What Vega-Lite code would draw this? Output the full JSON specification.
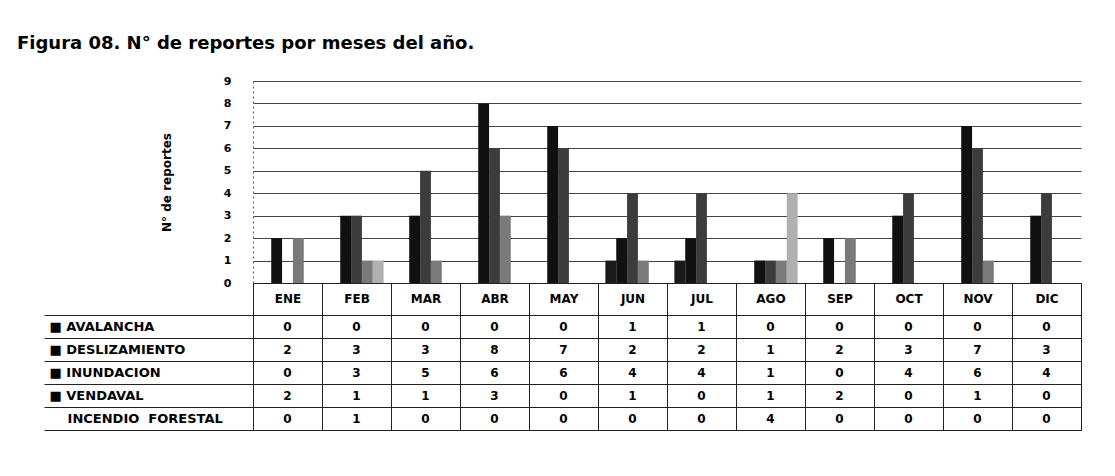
{
  "$schema": "https://vega.github.io/schema/vega-lite/v6.json",
  "background": "white",
  "padding": {"left": 17, "top": 35, "right": 25, "bottom": 10},
  "title": {
    "text": "Figura 08. N° de reportes por meses del año.",
    "anchor": "start",
    "dx": -26,
    "font": "DejaVu Sans",
    "fontSize": 18,
    "fontWeight": "bold",
    "color": "black",
    "offset": 22
  },
  "config": {
    "font": "DejaVu Sans",
    "concat": {"spacing": 32},
    "axis": {"labelColor": "black", "titleColor": "black", "labelFont": "DejaVu Sans", "titleFont": "DejaVu Sans"}
  },
  "bounds": "flush",
  "datasets": {
    "reportes": [
      {"mes": "ENE", "tipo": "AVALANCHA", "n": 0},
      {"mes": "FEB", "tipo": "AVALANCHA", "n": 0},
      {"mes": "MAR", "tipo": "AVALANCHA", "n": 0},
      {"mes": "ABR", "tipo": "AVALANCHA", "n": 0},
      {"mes": "MAY", "tipo": "AVALANCHA", "n": 0},
      {"mes": "JUN", "tipo": "AVALANCHA", "n": 1},
      {"mes": "JUL", "tipo": "AVALANCHA", "n": 1},
      {"mes": "AGO", "tipo": "AVALANCHA", "n": 0},
      {"mes": "SEP", "tipo": "AVALANCHA", "n": 0},
      {"mes": "OCT", "tipo": "AVALANCHA", "n": 0},
      {"mes": "NOV", "tipo": "AVALANCHA", "n": 0},
      {"mes": "DIC", "tipo": "AVALANCHA", "n": 0},
      {"mes": "ENE", "tipo": "DESLIZAMIENTO", "n": 2},
      {"mes": "FEB", "tipo": "DESLIZAMIENTO", "n": 3},
      {"mes": "MAR", "tipo": "DESLIZAMIENTO", "n": 3},
      {"mes": "ABR", "tipo": "DESLIZAMIENTO", "n": 8},
      {"mes": "MAY", "tipo": "DESLIZAMIENTO", "n": 7},
      {"mes": "JUN", "tipo": "DESLIZAMIENTO", "n": 2},
      {"mes": "JUL", "tipo": "DESLIZAMIENTO", "n": 2},
      {"mes": "AGO", "tipo": "DESLIZAMIENTO", "n": 1},
      {"mes": "SEP", "tipo": "DESLIZAMIENTO", "n": 2},
      {"mes": "OCT", "tipo": "DESLIZAMIENTO", "n": 3},
      {"mes": "NOV", "tipo": "DESLIZAMIENTO", "n": 7},
      {"mes": "DIC", "tipo": "DESLIZAMIENTO", "n": 3},
      {"mes": "ENE", "tipo": "INUNDACION", "n": 0},
      {"mes": "FEB", "tipo": "INUNDACION", "n": 3},
      {"mes": "MAR", "tipo": "INUNDACION", "n": 5},
      {"mes": "ABR", "tipo": "INUNDACION", "n": 6},
      {"mes": "MAY", "tipo": "INUNDACION", "n": 6},
      {"mes": "JUN", "tipo": "INUNDACION", "n": 4},
      {"mes": "JUL", "tipo": "INUNDACION", "n": 4},
      {"mes": "AGO", "tipo": "INUNDACION", "n": 1},
      {"mes": "SEP", "tipo": "INUNDACION", "n": 0},
      {"mes": "OCT", "tipo": "INUNDACION", "n": 4},
      {"mes": "NOV", "tipo": "INUNDACION", "n": 6},
      {"mes": "DIC", "tipo": "INUNDACION", "n": 4},
      {"mes": "ENE", "tipo": "VENDAVAL", "n": 2},
      {"mes": "FEB", "tipo": "VENDAVAL", "n": 1},
      {"mes": "MAR", "tipo": "VENDAVAL", "n": 1},
      {"mes": "ABR", "tipo": "VENDAVAL", "n": 3},
      {"mes": "MAY", "tipo": "VENDAVAL", "n": 0},
      {"mes": "JUN", "tipo": "VENDAVAL", "n": 1},
      {"mes": "JUL", "tipo": "VENDAVAL", "n": 0},
      {"mes": "AGO", "tipo": "VENDAVAL", "n": 1},
      {"mes": "SEP", "tipo": "VENDAVAL", "n": 2},
      {"mes": "OCT", "tipo": "VENDAVAL", "n": 0},
      {"mes": "NOV", "tipo": "VENDAVAL", "n": 1},
      {"mes": "DIC", "tipo": "VENDAVAL", "n": 0},
      {"mes": "ENE", "tipo": "INCENDIO FORESTAL", "n": 0},
      {"mes": "FEB", "tipo": "INCENDIO FORESTAL", "n": 1},
      {"mes": "MAR", "tipo": "INCENDIO FORESTAL", "n": 0},
      {"mes": "ABR", "tipo": "INCENDIO FORESTAL", "n": 0},
      {"mes": "MAY", "tipo": "INCENDIO FORESTAL", "n": 0},
      {"mes": "JUN", "tipo": "INCENDIO FORESTAL", "n": 0},
      {"mes": "JUL", "tipo": "INCENDIO FORESTAL", "n": 0},
      {"mes": "AGO", "tipo": "INCENDIO FORESTAL", "n": 4},
      {"mes": "SEP", "tipo": "INCENDIO FORESTAL", "n": 0},
      {"mes": "OCT", "tipo": "INCENDIO FORESTAL", "n": 0},
      {"mes": "NOV", "tipo": "INCENDIO FORESTAL", "n": 0},
      {"mes": "DIC", "tipo": "INCENDIO FORESTAL", "n": 0}
    ]
  },
  "vconcat": [
    {
      "width": 828,
      "height": 202,
      "data": {"name": "reportes"},
      "view": {"stroke": null},
      "mark": {"type": "bar"},
      "encoding": {
        "x": {
          "field": "mes",
          "type": "nominal",
          "sort": ["ENE", "FEB", "MAR", "ABR", "MAY", "JUN", "JUL", "AGO", "SEP", "OCT", "NOV", "DIC"],
          "scale": {"paddingInner": 0, "paddingOuter": 0},
          "axis": {
            "title": null,
            "labelAngle": 0,
            "labelFontSize": 12,
            "labelFontWeight": "bold",
            "labelPadding": -17,
            "tickBand": "extent",
            "tickSize": 32,
            "tickColor": "#222",
            "domainColor": "#222",
            "labelBaseline": "middle"
          }
        },
        "xOffset": {
          "field": "tipo",
          "sort": ["AVALANCHA", "DESLIZAMIENTO", "INUNDACION", "VENDAVAL", "INCENDIO FORESTAL"],
          "scale": {"paddingInner": 0, "paddingOuter": 0.68}
        },
        "y": {
          "field": "n",
          "type": "quantitative",
          "scale": {"domain": [0, 9]},
          "axis": {
            "title": "N° de reportes",
            "titleFontSize": 12,
            "titleFontWeight": "bold",
            "titlePadding": 50,
            "values": [0, 1, 2, 3, 4, 5, 6, 7, 8, 9],
            "labelFontSize": 11,
            "labelFontWeight": "bold",
            "ticks": false,
            "labelPadding": 22,
            "grid": true,
            "gridColor": "#444",
            "gridWidth": 1,
            "domainDash": [2, 3],
            "domainColor": "#555"
          }
        },
        "color": {
          "field": "tipo",
          "type": "nominal",
          "sort": ["AVALANCHA", "DESLIZAMIENTO", "INUNDACION", "VENDAVAL", "INCENDIO FORESTAL"],
          "scale": {
            "domain": ["AVALANCHA", "DESLIZAMIENTO", "INUNDACION", "VENDAVAL", "INCENDIO FORESTAL"],
            "range": ["#1a1a1a", "#111111", "#3c3c3c", "#7a7a7a", "#b0b0b0"]
          },
          "legend": null
        }
      }
    },
    {
      "width": 828,
      "height": 115,
      "data": {"name": "reportes"},
      "view": {"stroke": "#222"},
      "mark": {"type": "text", "fontSize": 12, "fontWeight": "bold", "color": "black", "font": "DejaVu Sans"},
      "encoding": {
        "x": {
          "field": "mes",
          "type": "nominal",
          "sort": ["ENE", "FEB", "MAR", "ABR", "MAY", "JUN", "JUL", "AGO", "SEP", "OCT", "NOV", "DIC"],
          "scale": {"paddingInner": 0, "paddingOuter": 0},
          "axis": {
            "title": null,
            "labels": false,
            "ticks": false,
            "domain": false,
            "grid": true,
            "tickBand": "extent",
            "gridColor": "#222",
            "gridWidth": 1
          }
        },
        "y": {
          "field": "tipo",
          "type": "nominal",
          "sort": ["AVALANCHA", "DESLIZAMIENTO", "INUNDACION", "VENDAVAL", "INCENDIO FORESTAL"],
          "scale": {"paddingInner": 0, "paddingOuter": 0},
          "axis": {
            "title": null,
            "domain": false,
            "tickBand": "extent",
            "tickSize": 209,
            "tickColor": "#222",
            "labelAlign": "left",
            "labelPadding": -5,
            "labelFontSize": 13,
            "labelFontWeight": "bold",
            "labelExpr": "!datum.value ? '' : (datum.value == 'INCENDIO FORESTAL' ? '\u200b\u00a0\u00a0\u00a0\u00a0INCENDIO\u00a0\u00a0FORESTAL' : '■ ' + datum.value)",
            "grid": true,
            "gridColor": "#222"
          }
        },
        "text": {"field": "n", "type": "quantitative"}
      }
    }
  ]
}
